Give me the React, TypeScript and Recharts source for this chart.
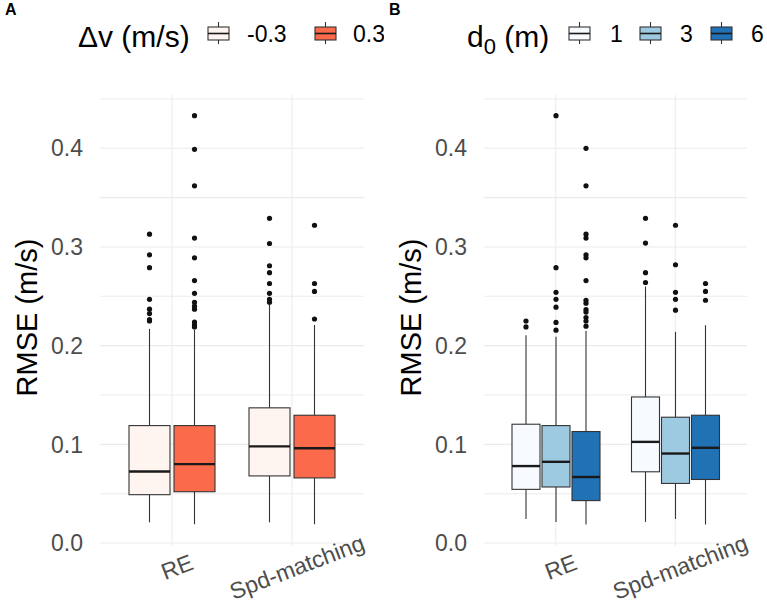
import React from 'react';
import { ComposedChart, Bar, XAxis, YAxis, CartesianGrid, Legend } from 'recharts';

const FONT = '"Liberation Sans", Arial, sans-serif';

const methods = ['RE', 'Spd-matching'];
const yTicks = [0, 0.1, 0.2, 0.3, 0.4];
const gridValues = [0, 0.05, 0.1, 0.15, 0.2, 0.25, 0.3, 0.35, 0.4, 0.45];

// panel A, speed difference
const dvLevels = ['-0.3', '0.3'];
const dvColors = ['#fff5f0', '#fb6a4a'];
// [lower whisker, q1, median, q3, upper whisker] for RE, Spd-matching
const dvNegStats = [[0.021, 0.049, 0.0725, 0.119, 0.217], [0.021, 0.068, 0.098, 0.137, 0.242]];
const dvPosStats = [[0.019, 0.052, 0.08, 0.119, 0.216], [0.019, 0.066, 0.096, 0.1295, 0.221]];
const dvNegOutliers = [
  [0.313, 0.292, 0.279, 0.247, 0.237, 0.2325, 0.2265, 0.225],
  [0.329, 0.3035, 0.281, 0.274, 0.263, 0.253, 0.247, 0.244],
];
const dvPosOutliers = [
  [0.433, 0.399, 0.362, 0.309, 0.289, 0.266, 0.253, 0.244, 0.24, 0.237, 0.224, 0.221, 0.219],
  [0.322, 0.263, 0.255, 0.227],
];

// panel B, initial gap
const d0Levels = ['1', '3', '6'];
const d0Colors = ['#f7fbff', '#9ecae1', '#2171b5'];
const d1Stats = [[0.0244, 0.0544, 0.078, 0.1204, 0.2106], [0.0214, 0.0722, 0.1025, 0.148, 0.26]];
const d3Stats = [[0.0214, 0.0568, 0.0823, 0.119, 0.209], [0.0244, 0.0604, 0.0907, 0.1275, 0.214]];
const d6Stats = [[0.0187, 0.043, 0.0669, 0.113, 0.215], [0.0187, 0.0644, 0.0965, 0.1295, 0.2207]];
const d1Outliers = [[0.225, 0.219], [0.329, 0.304, 0.274, 0.264]];
const d3Outliers = [[0.433, 0.279, 0.254, 0.247, 0.239, 0.2236, 0.2157], [0.322, 0.282, 0.254, 0.247, 0.236]];
const d6Outliers = [
  [0.4, 0.362, 0.313, 0.309, 0.292, 0.289, 0.266, 0.246, 0.243, 0.2366, 0.234, 0.2285, 0.225, 0.2197],
  [0.263, 0.255, 0.246],
];

const buildRows = (statsList, outList) =>
  methods.map((name, i) => {
    const row: any = { name };
    statsList.forEach((st, j) => {
      row['s' + j] = [st[i][0], st[i][4]];
      row['st' + j] = st[i];
      row['o' + j] = outList[j][i];
    });
    return row;
  });

const rowsA = buildRows([dvNegStats, dvPosStats], [dvNegOutliers, dvPosOutliers]);
const rowsB = buildRows([d1Stats, d3Stats, d6Stats], [d1Outliers, d3Outliers, d6Outliers]);

// box drawn inside the whisker range bar, values mapped linearly from the bar's pixel extent
const BoxShape = (props: any) => {
  const { x, y, width, height, payload, idx, fill } = props;
  const st = payload['st' + idx];
  const outs = payload['o' + idx];
  const lo = st[0];
  const hi = st[4];
  const top = Math.min(y, y + height);
  const bot = Math.max(y, y + height);
  const py = (v: number) => bot - ((bot - top) * (v - lo)) / (hi - lo);
  const cx = x + width / 2;
  return (
    <g>
      <line x1={cx} x2={cx} y1={py(hi)} y2={py(st[3])} stroke="#333" strokeWidth={1.1} />
      <line x1={cx} x2={cx} y1={py(st[1])} y2={py(lo)} stroke="#333" strokeWidth={1.1} />
      <rect x={x} y={py(st[3])} width={width} height={py(st[1]) - py(st[3])} fill={fill} stroke="#333" strokeWidth={1.1} />
      <line x1={x} x2={x + width} y1={py(st[2])} y2={py(st[2])} stroke="#1a1a1a" strokeWidth={2.4} />
      {outs.map((v: number, k: number) => (
        <circle key={k} cx={cx} cy={py(v)} r={2.6} fill="#111" />
      ))}
    </g>
  );
};

const XTick = (props: any) => {
  const { x, y, payload } = props;
  const tx = x + 5;
  const ty = y + 13;
  return (
    <text x={tx} y={ty} textAnchor="middle" dominantBaseline="central" transform={`rotate(-21 ${tx} ${ty})`}
      fill="#4d4d4d" fontSize={23} fontFamily={FONT}>
      {payload.value}
    </text>
  );
};

const YTitle = (props: any) => {
  const vb = props.viewBox || { x: 0, y: 95, height: 451 };
  const tx = vb.x + 37;
  const ty = vb.y + vb.height / 2 - 3;
  return (
    <text x={tx} y={ty} textAnchor="middle" transform={`rotate(-90 ${tx} ${ty})`} fontSize={29} fill="#000" fontFamily={FONT}>
      RMSE (m/s)
    </text>
  );
};

const KeyGlyph = ({ x, fill }: any) => (
  <g>
    <line x1={x + 10.5} x2={x + 10.5} y1={22} y2={44} stroke="#333" strokeWidth={1.1} />
    <rect x={x} y={27} width={21} height={13} fill={fill} stroke="#333" strokeWidth={1.1} />
    <line x1={x} x2={x + 21} y1={33.5} y2={33.5} stroke="#1a1a1a" strokeWidth={1.6} />
  </g>
);

const LegendA = () => (
  <svg width={384} height={60} style={{ display: 'block' }}>
    <text x={78} y={47} fontSize={30} fontFamily={FONT} fill="#000">Δv (m/s)</text>
    {dvLevels.map((lv, i) => (
      <g key={lv}>
        <KeyGlyph x={[208, 315][i]} fill={dvColors[i]} />
        <text x={[247, 353][i]} y={42} fontSize={23} fontFamily={FONT} fill="#000">{lv}</text>
      </g>
    ))}
  </svg>
);

const LegendB = () => (
  <svg width={383} height={60} style={{ display: 'block' }}>
    <text x={83} y={47} fontSize={30} fontFamily={FONT} fill="#000">
      d<tspan fontSize={22} dy={7}>0</tspan>
      <tspan dy={-7}> (m)</tspan>
    </text>
    {d0Levels.map((lv, i) => (
      <g key={lv}>
        <KeyGlyph x={[185, 256, 327][i]} fill={d0Colors[i]} />
        <text x={[226, 296, 367][i]} y={42} fontSize={23} fontFamily={FONT} fill="#000">{lv}</text>
      </g>
    ))}
  </svg>
);

const Panel = ({ rows, colors, width, barSize, barGap, legend, tag }: any) => (
  <div style={{ position: 'relative', width, height: 604 }}>
    <div style={{ position: 'absolute', left: 5, top: 1, fontSize: 16, fontWeight: 'bold', fontFamily: FONT, zIndex: 2 }}>{tag}</div>
    <ComposedChart width={width} height={604} data={rows} margin={{ top: 35, right: 20, bottom: 0, left: 0 }}
      barGap={barGap} barSize={barSize}>
      <Legend verticalAlign="top" content={legend} wrapperStyle={{ top: 0, left: 0, width, height: 60 }} />
      <CartesianGrid stroke="#ebebeb" strokeWidth={1.1} horizontalValues={gridValues} syncWithTicks />
      <XAxis dataKey="name" type="category" padding={{ left: 12, right: 12 }} axisLine={false} tickLine={false}
        height={58} tick={<XTick />} interval={0} />
      <YAxis type="number" domain={[-0.003, 0.454]} allowDataOverflow ticks={yTicks} width={100}
        tickFormatter={(v: number) => v.toFixed(1)} axisLine={false} tickLine={false} tickSize={0} tickMargin={17}
        tick={{ fill: '#4d4d4d', fontSize: 23, fontFamily: FONT }} label={<YTitle />} />
      {colors.map((c: string, j: number) => (
        <Bar key={j} dataKey={'s' + j} fill={c} isAnimationActive={false}
          shape={(p: any) => <BoxShape {...p} idx={j} fill={c} />} />
      ))}
    </ComposedChart>
  </div>
);

export default function App() {
  return (
    <div style={{ position: 'absolute', left: 0, top: 0, width: 767, height: 604, background: '#fff', display: 'flex' }}>
      <Panel rows={rowsA} colors={dvColors} width={384} barSize={41} barGap={4} legend={LegendA} tag="A" />
      <Panel rows={rowsB} colors={d0Colors} width={383} barSize={28} barGap={2} legend={LegendB} tag="B" />
    </div>
  );
}
